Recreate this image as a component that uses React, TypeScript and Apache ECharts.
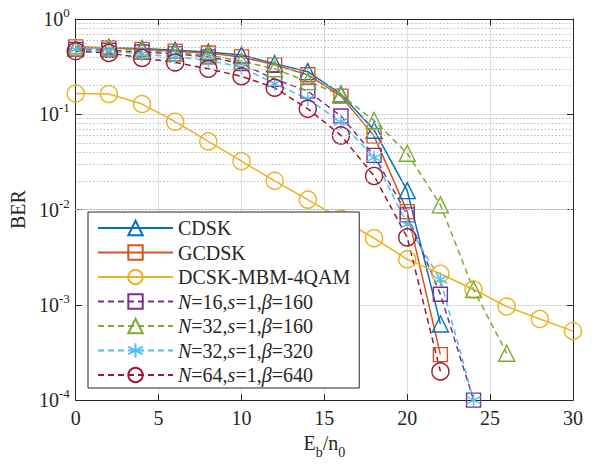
import React, { useEffect, useRef } from "react";
import * as echarts from "echarts";

const snr = [0, 2, 4, 6, 8, 10, 12, 14, 16, 18, 20, 22, 24, 26, 28, 30];

const cdsk = [0.5, 0.5, 0.49, 0.47, 0.45, 0.42, 0.34, 0.28, 0.163, 0.068, 0.0158, 0.00063];
const gcdsk = [0.51, 0.5, 0.48, 0.46, 0.44, 0.4, 0.33, 0.26, 0.155, 0.059, 0.0095, 0.0003];
const mbm = [0.165, 0.163, 0.128, 0.0836, 0.0519, 0.0322, 0.02, 0.0127, 0.008, 0.005, 0.003, 0.00212, 0.00145, 0.00096, 0.00071, 0.00053];
const n16 = [0.48, 0.47, 0.45, 0.43, 0.4, 0.34, 0.233, 0.175, 0.096, 0.037, 0.0088, 0.00129, 0.0001];
const n32 = [0.5, 0.5, 0.47, 0.44, 0.42, 0.36, 0.3, 0.22, 0.16, 0.086, 0.039, 0.0112, 0.00145, 0.00031];
const n32b = [0.48, 0.46, 0.43, 0.4, 0.37, 0.31, 0.21, 0.145, 0.083, 0.035, 0.007, 0.00184, 0.0001];
const n64 = [0.46, 0.44, 0.39, 0.35, 0.3, 0.25, 0.19, 0.114, 0.06, 0.0225, 0.0051, 0.0002];

const names = [
  "CDSK",
  "GCDSK",
  "DCSK-MBM-4QAM",
  "N=16,s=1,β=160",
  "N=32,s=1,β=160",
  "N=32,s=1,β=320",
  "N=64,s=1,β=640",
];

const minorTicks: number[] = [];
for (let e = -4; e < 0; e++) {
  for (let m = 2; m <= 9; m++) minorTicks.push(m * Math.pow(10, e));
}

const ASTER = "path://M5,0L5,10M0.67,2.5L9.33,7.5M0.67,7.5L9.33,2.5";

export default function App() {
  const ref = useRef<HTMLDivElement>(null);
  useEffect(() => {
    if (!ref.current) return;
    const chart = echarts.init(ref.current, null, { renderer: "svg" });
    const txt = "#262626";
    const font = "Liberation Serif";
    const fs = 20;
    const mk = (
      name: string,
      vals: number[],
      color: string,
      symbol: string,
      dashed: boolean,
      size = 16
    ) => ({
      name,
      type: "line",
      data: vals.map((v, i) => [snr[i], v]),
      symbol,
      symbolSize: size,
      showAllSymbol: true,
      clip: false,
      z: 3,
      lineStyle: { color, width: 1.5, type: dashed ? [6, 4] : "solid" },
      itemStyle: { color: "rgba(0,0,0,0)", borderColor: color, borderWidth: 1.4 },
    });
    const option: any = {
      animation: false,
      textStyle: { fontFamily: font },
      grid: { left: 75, right: 21, top: 19, bottom: 59 },
      legend: {
        data: names,
        orient: "vertical",
        left: 88,
        top: 212,
        itemWidth: 75,
        itemHeight: 18,
        itemGap: 4.5,
        itemTextGap: 6,
        padding: [6, 9, 3, 9],
        backgroundColor: "#fff",
        borderColor: txt,
        borderWidth: 1,
        z: 10,
        formatter: (n: string) => n.replace(/(N|s|β)=/g, "{i|$1}="),
        textStyle: {
          fontFamily: font,
          fontSize: fs,
          color: txt,
          rich: { i: { fontStyle: "italic", fontSize: fs, fontFamily: font, color: txt } },
        },
      },
      xAxis: [
        {
          type: "value",
          min: 0,
          max: 30,
          interval: 5,
          position: "bottom",
          axisLine: { show: true, onZero: false, lineStyle: { color: txt, width: 1 } },
          axisTick: { show: true, inside: true, length: 6, lineStyle: { color: txt } },
          axisLabel: { fontSize: fs, color: txt, margin: 8, fontFamily: font },
          splitLine: { show: true, lineStyle: { color: "#dedede", width: 1 } },
          name: "{b|E}{s|b}{b|/n}{s|0}",
          nameLocation: "middle",
          nameGap: 33,
          nameTextStyle: {
            rich: {
              b: { fontSize: fs, color: txt, fontFamily: font, verticalAlign: "bottom", lineHeight: 20, padding: [0, 0, 6, 0] },
              s: { fontSize: 14, color: txt, fontFamily: font, verticalAlign: "bottom", lineHeight: 14 },
            },
          },
        },
        {
          type: "value",
          min: 0,
          max: 30,
          interval: 5,
          position: "top",
          axisLine: { show: true, onZero: false, lineStyle: { color: txt, width: 1 } },
          axisTick: { show: true, inside: true, length: 6, lineStyle: { color: txt } },
          axisLabel: { show: false },
          splitLine: { show: false },
        },
      ],
      yAxis: [
        {
          type: "log",
          logBase: 10,
          min: 1e-4,
          max: 1,
          position: "left",
          axisLine: { show: true, onZero: false, lineStyle: { color: txt, width: 1 } },
          axisTick: { show: true, inside: true, length: 6, lineStyle: { color: txt } },
          axisLabel: {
            margin: 6,
            formatter: (v: number) => "{b|10}{p|" + Math.round(Math.log10(v)) + "}",
            rich: {
              b: { fontSize: fs, color: txt, fontFamily: font, verticalAlign: "bottom", lineHeight: 20 },
              p: { fontSize: 13, color: txt, fontFamily: font, verticalAlign: "bottom", lineHeight: 13, padding: [0, 0, 10, 0] },
            },
          },
          splitLine: { show: true, lineStyle: { color: "#dedede", width: 1 } },
          name: "BER",
          nameLocation: "middle",
          nameGap: 44,
          nameTextStyle: { fontSize: fs, color: txt, fontFamily: font },
        },
        {
          type: "log",
          logBase: 10,
          min: 1e-4,
          max: 1,
          position: "right",
          axisLine: { show: true, onZero: false, lineStyle: { color: txt, width: 1 } },
          axisTick: { show: true, inside: true, length: 6, lineStyle: { color: txt } },
          axisLabel: { show: false },
          splitLine: { show: false },
        },
      ],
      series: [
        {
          name: "minor",
          type: "line",
          data: [],
          z: 1,
          silent: true,
          markLine: {
            silent: true,
            symbol: "none",
            label: { show: false },
            animation: false,
            lineStyle: { color: "#b8b8b8", width: 1, type: [1.5, 2] },
            data: minorTicks.map((v) => ({ yAxis: v })),
          },
        },
        mk(names[0], cdsk, "#0072BD", "triangle", false),
        mk(names[1], gcdsk, "#D95319", "rect", false, 14),
        mk(names[2], mbm, "#EDB120", "circle", false, 17),
        mk(names[3], n16, "#7E2F8E", "rect", true, 14),
        mk(names[4], n32, "#77AC30", "triangle", true),
        mk(names[5], n32b, "#4DBEEE", ASTER, true, 14),
        mk(names[6], n64, "#A2142F", "circle", true, 17),
      ],
    };
    chart.setOption(option);
    return () => chart.dispose();
  }, []);
  return (
    <div
      ref={ref}
      style={{ position: "fixed", left: 0, top: 0, width: 594, height: 464, background: "#fff" }}
    />
  );
}
